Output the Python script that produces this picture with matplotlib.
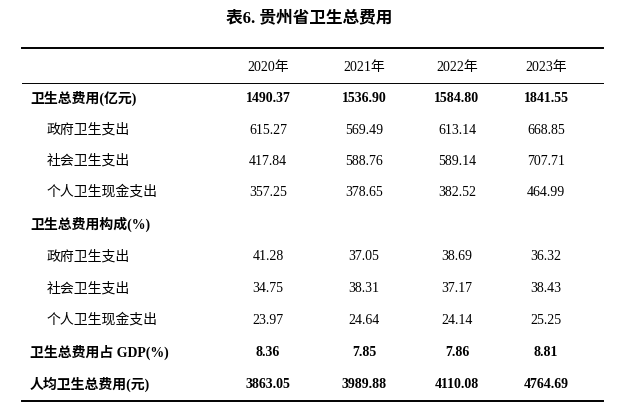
import matplotlib.pyplot as plt
from matplotlib.lines import Line2D

title = "表6. 贵州省卫生总费用"
years = ["2020年", "2021年", "2022年", "2023年"]
row_labels = ["卫生总费用(亿元)", "政府卫生支出", "社会卫生支出", "个人卫生现金支出",
              "卫生总费用构成(%)", "政府卫生支出", "社会卫生支出", "个人卫生现金支出",
              "卫生总费用占 GDP(%)", "人均卫生总费用(元)"]
bold_rows = [0, 4, 8, 9]
values = [
    ["1490.37", "1536.90", "1584.80", "1841.55"],
    ["615.27", "569.49", "613.14", "668.85"],
    ["417.84", "588.76", "589.14", "707.71"],
    ["357.25", "378.65", "382.52", "464.99"],
    ["", "", "", ""],
    ["41.28", "37.05", "38.69", "36.32"],
    ["34.75", "38.31", "37.17", "38.43"],
    ["23.97", "24.64", "24.14", "25.25"],
    ["8.36", "7.85", "7.86", "8.81"],
    ["3863.05", "3989.88", "4110.08", "4764.69"],
]

W, H = 618, 415
fig = plt.figure(figsize=(W / 100, H / 100), dpi=100)
fam = ["Liberation Serif", "Noto Sans CJK SC"]

def txt(x, y, s, **kw):
    fig.text(x / W, 1 - y / H, s, family=fam, va="center", **kw)

def hline(y, lw):
    fig.add_artist(Line2D([22 / W, 603 / W], [1 - y / H] * 2, color="black", lw=lw))

txt(309, 18, title, ha="center", fontsize=12, fontweight="bold")
hline(48, 1.4)
hline(83, 0.7)
hline(401, 1.4)

col_x = [268, 364, 457, 546]
for x, yr in zip(col_x, years):
    txt(x, 67, yr, ha="center", fontsize=10)

row_y = [98, 130, 161, 192, 224, 257, 289, 320, 352, 384]
for i, (lab, vals, y) in enumerate(zip(row_labels, values, row_y)):
    bold = i in bold_rows
    w = "bold" if bold else "normal"
    txt(30 if bold else 47, y, lab, ha="left", fontsize=10, fontweight=w)
    for x, v in zip(col_x, vals):
        txt(x, y, v, ha="center", fontsize=10, fontweight=w)

fig.savefig("out.png", dpi=100, facecolor="white")
